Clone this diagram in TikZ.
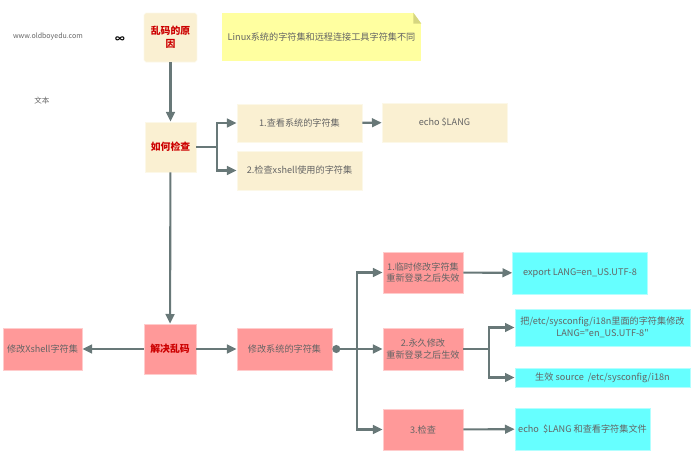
\documentclass[tikz,border=0pt]{standalone}
\usepackage{fontspec}
\setmainfont{Noto Sans CJK SC}
\newfontfamily\cjk{Noto Sans CJK SC}
\usetikzlibrary{arrows.meta}

\definecolor{beigefill}{RGB}{250,240,210}
\definecolor{pinkfill}{RGB}{255,153,153}
\definecolor{cyanfill}{RGB}{102,255,255}
\definecolor{notefill}{RGB}{255,255,160}
\definecolor{notefold}{RGB}{214,214,128}
\definecolor{linegray}{RGB}{104,120,120}
\definecolor{textgray}{RGB}{100,100,100}
\definecolor{titlered}{RGB}{204,0,0}

\tikzset{
  box/.style={rectangle, inner sep=1pt, align=center, text=textgray,
    font=\cjk\fontsize{5.2}{6.8}\selectfont},
  beigebox/.style={box, fill=beigefill, draw=beigefill!50!white},
  pinkbox/.style={box, fill=pinkfill, draw=pinkfill!50!white},
  cyanbox/.style={box, fill=cyanfill, draw=cyanfill!50!white},
  title/.style={text=titlered, font=\cjk\fontsize{5.6}{7.4}\selectfont\bfseries},
  link/.style={draw=linegray, line width=1.2pt, -{Triangle[length=5.5pt,width=5pt]}},
  trunk/.style={draw=linegray, line width=1.2pt},
}

\begin{document}
\begin{tikzpicture}[x=0.02cm, y=-0.02cm]
    \useasboundingbox (0,0) rectangle (694,471);

    % Loose labels
    \node[text=textgray, font=\cjk\fontsize{4}{5}\selectfont] (site) at (48,37) {www.oldboyedu.com};
    \node[font=\cjk\fontsize{5.5}{6}\selectfont\bfseries] (loop) at (120,40) {∞};
    \node[text=textgray, font=\cjk\fontsize{4.3}{5}\selectfont] (plain) at (42,101) {文本};

    % Cause and note
    \node[beigebox, title, rounded corners=1pt, minimum width=1.06cm, minimum height=0.98cm] (cause) at (170.5,37.5) {乱码的原\\因};
    \node[box, fill=notefill, minimum width=3.98cm, minimum height=0.96cm] (note) at (321.5,37) {Linux系统的字符集和远程连接工具字符集不同};
    \fill[white] (note.north east) -- ++(-8,0) -- ++(8,11) -- cycle;
    \fill[notefold] (note.north east) ++(-8,0) -- ++(8,11) -- ++(-8,0) -- cycle;

    % How to check
    \node[beigebox, title, minimum width=1.02cm, minimum height=1.0cm] (check) at (170.5,147) {如何检查};
    \node[beigebox, minimum width=2.5cm, minimum height=0.76cm] (checksys) at (299.5,123) {1.查看系统的字符集};
    \node[beigebox, minimum width=2.5cm, minimum height=0.78cm] (checkxsh) at (299.5,170.5) {2.检查xshell使用的字符集};
    \node[beigebox, minimum width=2.5cm, minimum height=0.78cm] (echolang) at (444.5,122.5) {echo \$LANG};

    % Fix
    \node[pinkbox, title, minimum width=1.04cm, minimum height=1.0cm] (fix) at (170,349) {解决乱码};
    \node[pinkbox, minimum width=1.58cm, minimum height=0.84cm] (fixxsh) at (42.5,349) {修改Xshell字符集};
    \node[pinkbox, minimum width=1.9cm, minimum height=0.84cm] (fixsys) at (284.5,349) {修改系统的字符集};

    \node[pinkbox, minimum width=1.6cm, minimum height=0.82cm] (temp) at (423,272.5) {1.临时修改字符集\\重新登录之后失效};
    \node[pinkbox, minimum width=1.6cm, minimum height=0.84cm] (perm) at (423,349) {2.永久修改\\重新登录之后生效};
    \node[pinkbox, minimum width=1.6cm, minimum height=0.82cm] (verify) at (423,429.5) {3.检查};

    \node[cyanbox, minimum width=2.7cm, minimum height=0.84cm] (export) at (580,273) {export LANG=en\_US.UTF-8};
    \node[cyanbox, minimum width=3.5cm, minimum height=0.74cm] (editfile) at (602.5,327.5) {把/etc/sysconfig/i18n里面的字符集修改\\LANG="en\_US.UTF-8"};
    \node[cyanbox, minimum width=3.5cm, minimum height=0.38cm] (source) at (602.5,377.5) {生效 source\ \ /etc/sysconfig/i18n};
    \node[cyanbox, minimum width=2.7cm, minimum height=0.84cm] (echocheck) at (582.5,429) {echo\ \ \$LANG 和查看字符集文件};

    % Connections
    \draw[link] (cause) -- (check);
    \draw[trunk] (check.east) -- ++(21,0) coordinate (br1);
    \draw[link] (br1) |- (checksys.west);
    \draw[link] (br1) |- (checkxsh.west);
    \draw[link] (checksys) -- (echolang);

    \draw[link] (check) -- (fix);
    \draw[link] (fix) -- (fixxsh);
    \draw[link] (fix) -- (fixsys);

    \draw[trunk, {Circle[length=4.5pt]}-] (fixsys.east) -- (357,349) coordinate (br2);
    \draw[link] (br2) |- (temp.west);
    \draw[link] (br2) -- (perm.west);
    \draw[link] (br2) |- (verify.west);

    \draw[link] (temp) -- (export);
    \draw[trunk] (perm.east) -- ++(26,0) coordinate (br3);
    \draw[link] (br3) |- (editfile.west);
    \draw[link] (br3) |- (source.west);
    \draw[link] (verify) -- (echocheck);

\end{tikzpicture}
\end{document}
